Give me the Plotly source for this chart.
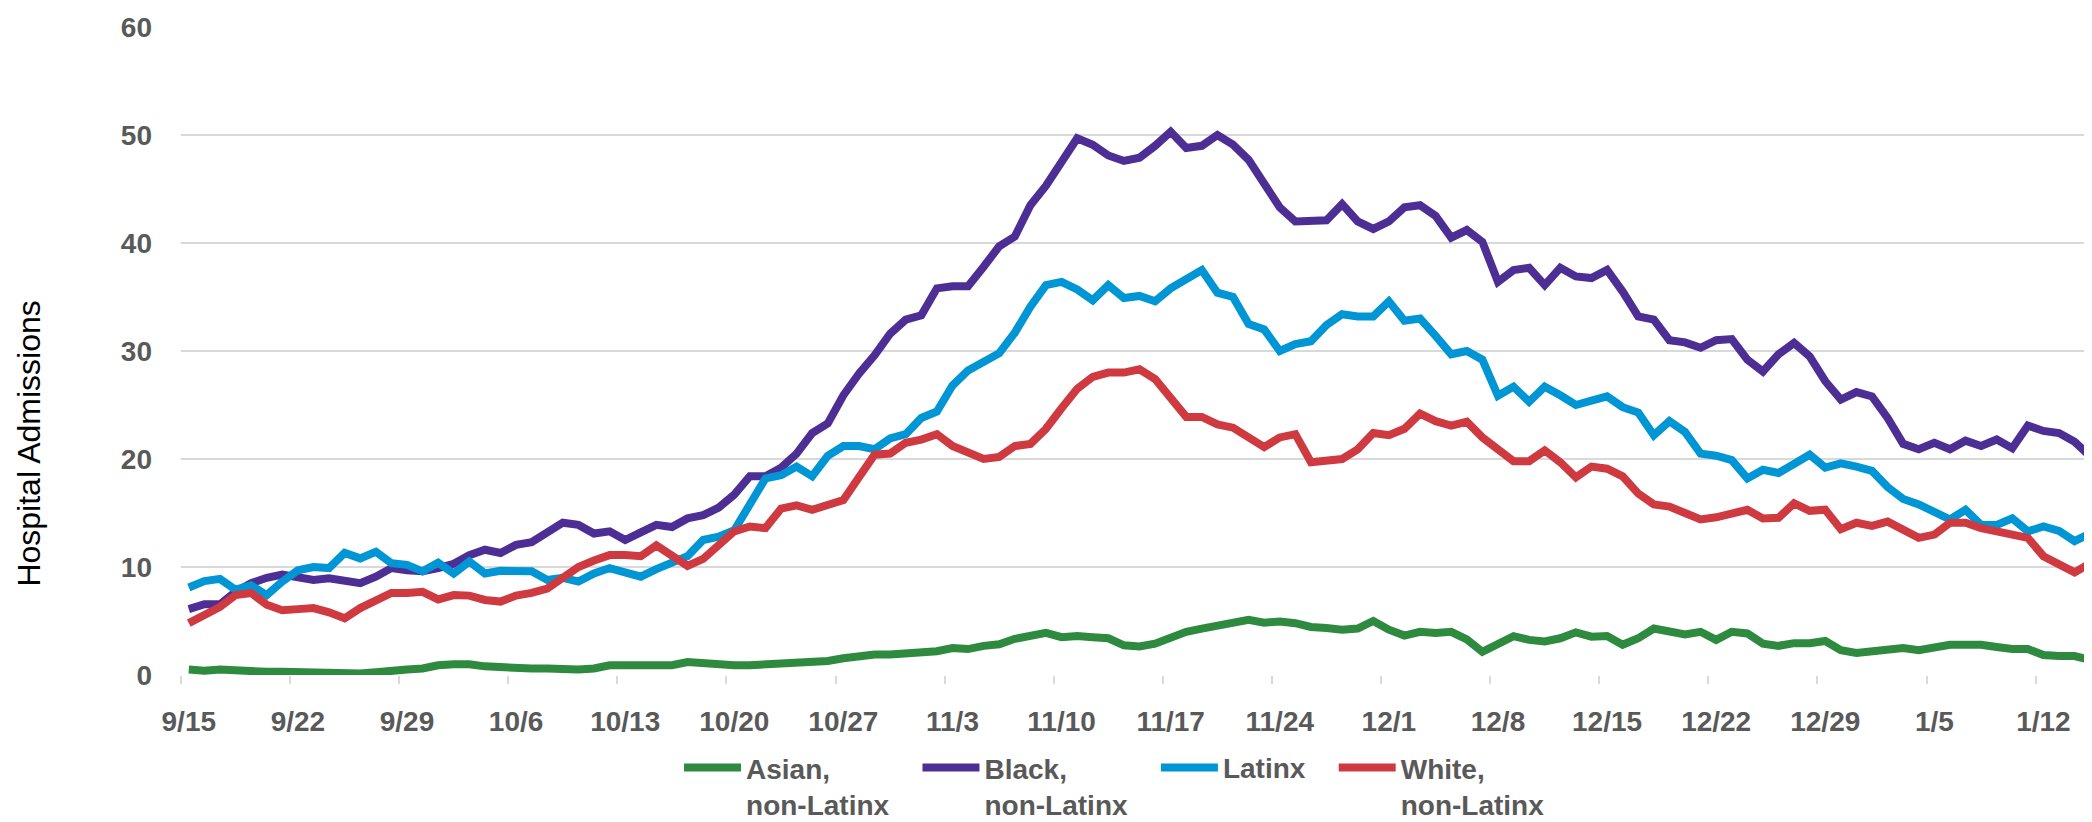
import pandas as pd
import plotly.graph_objects as go

# ---- data (daily, 9/15 .. 1/15) ----
start_date = "2020-09-15"
n_days = 123
dates = pd.date_range(start_date, periods=n_days)

asian = [0.5,0.4,0.5,0.4,0.3,0.3,0.3,0.25,0.25,0.15,0.15,0.15,0.25,0.45,0.5,0.6,0.9,1.0,1.0,0.8,0.7,
         0.6,0.6,0.6,0.5,0.5,0.6,0.9,0.9,0.9,0.9,0.9,1.2,1.1,0.9,0.9,0.9,1.0,1.1,1.1,1.15,
         1.3,1.55,1.8,1.9,1.9,1.95,2.05,2.2,2.5,2.4,2.7,2.85,3.35,3.6,3.9,3.5,3.6,3.5,3.4,2.75,2.65,2.9,
         3.5,4.0,4.3,4.6,4.8,5.1,4.85,4.95,4.8,4.45,4.35,4.2,4.3,5.0,4.2,3.65,4.0,3.9,4.0,
         3.3,2.15,2.8,3.6,3.25,3.1,3.4,3.95,3.55,3.6,2.8,3.4,4.3,4.1,3.75,4.0,3.25,4.0,3.85,2.9,
         2.7,2.95,2.95,3.15,2.3,2.05,2.15,2.4,2.5,2.3,2.6,2.8,2.8,2.8,2.6,2.4,2.4,1.85,1.75,1.75,1.4]

black = [6.1,6.55,6.55,7.7,8.5,9.0,9.3,9.1,8.8,8.95,8.7,8.5,9.1,9.9,9.7,9.6,9.9,10.3,11.1,11.6,11.3,
         12.05,12.3,13.3,14.1,13.9,13.1,13.3,12.5,13.2,13.9,13.7,14.5,14.8,15.5,16.7,18.4,18.4,19.2,20.5,22.4,23.3,
         25.9,27.9,29.6,31.6,32.9,33.3,35.8,36.0,36.0,37.8,39.7,40.6,43.5,45.3,47.6,49.7,49.1,48.1,47.6,47.9,49.0,
         50.3,48.8,49.0,50.0,49.1,47.7,45.6,43.3,42.0,42.0,42.1,43.6,42.0,41.3,42.0,43.3,43.5,42.5,40.5,
         41.2,40.1,36.4,37.5,37.7,36.1,37.7,36.9,36.75,37.5,35.5,33.2,32.9,31.0,30.8,30.3,31.0,31.1,29.2,28.1,
         29.7,30.75,29.5,27.2,25.5,26.2,25.8,23.8,21.4,20.9,21.5,20.9,21.7,21.2,21.8,21.0,23.1,22.6,22.4,21.6,20.25]

latinx = [8.1,8.7,8.9,7.9,8.3,7.4,8.65,9.7,10.0,9.9,11.3,10.8,11.4,10.35,10.2,9.6,10.4,9.4,10.5,9.4,9.65,
          9.7,9.6,8.8,9.0,8.65,9.4,9.9,9.5,9.1,9.8,10.4,11.0,12.5,12.8,13.4,15.8,18.2,18.5,19.3,18.4,
          20.3,21.2,21.2,20.9,21.9,22.3,23.8,24.4,26.8,28.2,28.9,29.8,31.7,34.1,36.1,36.4,35.7,34.7,36.1,34.9,35.1,34.6,
          35.8,36.6,37.5,35.4,35.0,32.5,32.0,30.0,30.65,30.9,32.4,33.4,33.2,33.2,34.6,32.8,33.0,31.4,29.7,
          30.0,29.2,25.85,26.7,25.3,26.7,25.9,25.0,25.4,25.8,24.8,24.3,22.2,23.5,22.5,20.5,20.3,19.9,18.2,19.0,
          18.7,19.6,20.4,19.2,19.6,19.3,18.9,17.4,16.3,15.8,15.2,14.4,15.3,13.9,13.9,14.5,13.3,13.75,13.35,12.4,13.1]

white = [4.8,5.6,6.3,7.4,7.6,6.5,6.0,6.1,6.2,5.8,5.25,6.2,6.8,7.6,7.6,7.7,7.0,7.4,7.35,6.95,6.8,
         7.35,7.6,8.0,9.0,10.0,10.6,11.1,11.1,11.0,12.0,11.0,10.1,10.75,12.0,13.3,13.75,13.6,15.4,15.7,15.3,15.8,
         16.2,18.3,20.4,20.5,21.5,21.8,22.3,21.2,20.6,20.0,20.2,21.2,21.4,22.8,24.7,26.5,27.6,28.0,28.0,28.3,27.4,
         25.6,23.9,23.9,23.2,22.9,22.1,21.1,22.0,22.3,19.7,19.8,20.0,20.9,22.4,22.2,22.8,24.2,23.5,23.1,
         23.45,22.0,20.8,19.8,19.8,20.8,19.7,18.3,19.3,19.1,18.4,16.8,15.8,15.6,15.0,14.4,14.6,15.0,15.3,14.5,
         14.55,15.9,15.2,15.3,13.5,14.1,13.8,14.2,13.4,12.7,13.0,14.1,14.1,13.6,13.3,13.0,12.7,11.0,10.3,9.5,10.35]

pad = "&nbsp;" * 3
series_names = ["Asian,<br>non-Latinx" + pad, "Black,<br>non-Latinx" + pad,
                "Latinx" + pad, "White,<br>non-Latinx"]
series_values = [asian, black, latinx, white]
series_colors = ["#2E8A3F", "#4C2E95", "#0095D4", "#CF3A41"]

tick_labels = ["9/15", "9/22", "9/29", "10/6", "10/13", "10/20", "10/27", "11/3", "11/10",
               "11/17", "11/24", "12/1", "12/8", "12/15", "12/22", "12/29", "1/5", "1/12"]
tick_dates = pd.date_range(start_date, periods=len(tick_labels), freq="7D")
y_ticks = [0, 10, 20, 30, 40, 50, 60]

# ---- figure ----
fig = go.Figure()
for name, vals, col in zip(series_names, series_values, series_colors):
    fig.add_trace(go.Scatter(x=dates, y=vals, mode="lines", name=name,
                             line=dict(color=col, width=8, shape="linear")))

half_day = pd.Timedelta(hours=12)
label_font = dict(family="Liberation Sans, Arial, sans-serif", size=28, color="#595959", weight="bold")

fig.update_layout(
    width=2092, height=822,
    margin=dict(l=173, r=2, t=19, b=155),
    paper_bgcolor="white", plot_bgcolor="white",
    showlegend=True,
    legend=dict(orientation="h", xref="paper", x=0.2598, xanchor="left",
                yref="container", y=0.106, yanchor="top",
                font=label_font, valign="top", itemwidth=57, traceorder="normal"),
    xaxis=dict(
        type="date",
        range=[dates[0] - half_day, dates[-1] + half_day],
        tickmode="array", tickvals=tick_dates, ticktext=tick_labels,
        ticks="", showgrid=False, zeroline=False, showline=False,
        tickfont=label_font,
        ticklabelstandoff=27,
        minor=dict(ticks="outside", ticklen=8, tickwidth=2, tickcolor="#D9D9D9",
                   tickmode="linear", tick0=dates[0] - half_day, dtick=7 * 86400000,
                   showgrid=False),
    ),
    yaxis=dict(
        range=[0, 60], tickmode="array", tickvals=y_ticks,
        showgrid=True, gridcolor="#D9D9D9", gridwidth=2,
        zeroline=False, showline=False, ticks="",
        tickfont=label_font,
        ticklabelstandoff=28,
    ),
    annotations=[dict(text="Hospital Admissions", textangle=-90, showarrow=False,
                      xref="paper", yref="paper", x=-0.0795, xanchor="center",
                      y=0.3565, yanchor="middle",
                      font=dict(family="Liberation Sans, Arial, sans-serif", size=32, color="#000000"))],
)

fig.write_html("out.html")
